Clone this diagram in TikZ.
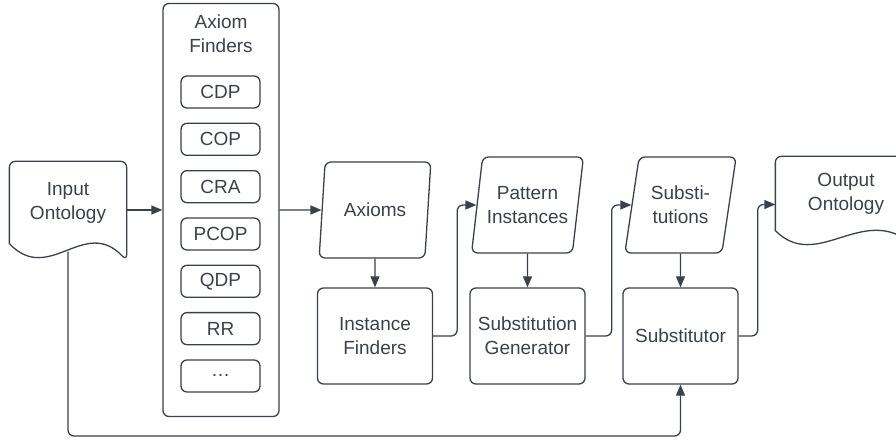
\documentclass[tikz,border=0pt]{standalone}
\usepackage{fontspec}
\setmainfont{Liberation Sans}
\usetikzlibrary{arrows.meta,shapes.geometric,calc}
\definecolor{ink}{HTML}{3A414A}

\begin{document}
\begin{tikzpicture}[x=1pt, y=-1pt, color=ink, line width=1.3pt,
		font=\fontsize{19}{24}\selectfont,
		>={Triangle[length=11pt,width=9pt]},
		box/.style={draw, rounded corners=6pt, align=center, inner sep=0pt},
		proc/.style={box, minimum width=115pt, minimum height=96pt},
		finder/.style={box, minimum width=79pt, minimum height=32pt},
		data/.style={draw, shape=trapezium, trapezium left angle=75,
			trapezium right angle=105, trapezium stretches=true,
			rounded corners=6pt, align=center, inner sep=0pt,
			minimum width=112pt, minimum height=96pt},
		doc/.style={align=center, inner sep=0pt},
		conn/.style={->, rounded corners=6pt}]
			\useasboundingbox (0, 0) rectangle (896, 443);
			\clip (0, 0) rectangle (896, 443);

			% axiom finders column
			\node[box, minimum width=116pt, minimum height=413pt] (af) at (221, 210) {};
			\node[align=center] (aft) at (221, 33.5) {Axiom\\Finders};
			\foreach \lbl [count=\i] in {CDP, COP, CRA, PCOP, QDP, RR, {\ldots}}
				\node[finder] (f\i) at (220.5, {92 + 47.33 * (\i - 1)}) {\lbl};

			% documents
			\node[doc, minimum width=116pt, minimum height=81pt] (inp) at (68, 202.5) {Input\\Ontology};
			\draw ($(inp.south east) + (0, 17)$)
			.. controls ($(inp.south west) + (75, -28)$) and ($(inp.south west) + (40, 42)$) .. (inp.south west)
			[rounded corners=6pt] -- (inp.north west) -- (inp.north east) -- cycle;

			\node[doc, minimum width=140pt, minimum height=73pt] (out) at (846, 193.5) {Output\\Ontology};
			\draw ($(out.south east) + (0, 17)$)
			.. controls ($(out.south west) + (87, -28)$) and ($(out.south west) + (42, 42)$) .. (out.south west)
			[rounded corners=6pt] -- (out.north west) -- (out.north east) -- cycle;

			% data and processes
			\node[data] (ax) at (375, 210) {Axioms};
			\node[data] (pt) at (527.5, 205) {Pattern\\Instances};
			\node[data] (subs) at (680.5, 205) {Substi-\\tutions};

			\node[proc] (inf) at (375, 336) {Instance\\Finders};
			\node[proc] (sg) at (527.5, 336) {Substitution\\Generator};
			\node[proc] (sub) at (680.5, 336) {Substitutor};

			% connectors
			\draw[conn] (inp.east |- af) -- (af);
			\draw[conn] (af) -- (ax);
			\draw[conn] (ax) -- (inf);
			\draw[conn] (inf.east) -- ++(24, 0) |- (pt);
			\draw[conn] (pt) -- (sg);
			\draw[conn] (sg.east) -- ++(26, 0) |- (subs);
			\draw[conn] (subs) -- (sub);
			\draw[conn] (sub.east) -- ++(19, 0) |- ($(out.west) + (0, 11)$);

			\coordinate (wv) at ($(inp.south) + (0, 8)$);
			\coordinate (bt) at (0, 436);
			\draw[conn] (wv) |- (bt -| sub) -- (sub);

		\end{tikzpicture}
\end{document}
